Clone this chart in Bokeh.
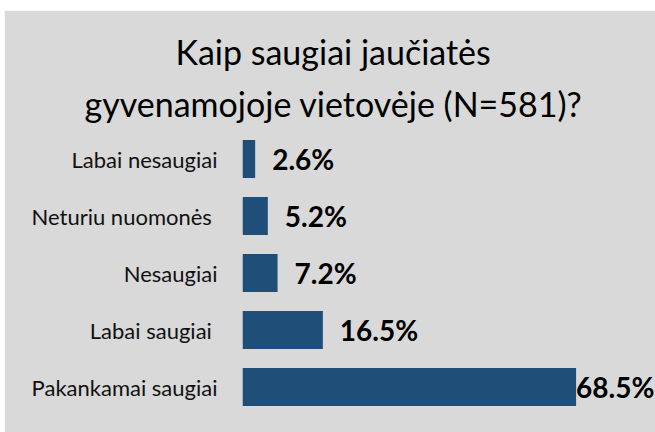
from bokeh.plotting import figure
from bokeh.models import ColumnDataSource, Range1d, FactorRange, Spacer, Title
from bokeh.layouts import column, row
from bokeh.core.properties import value
from bokeh.embed import file_html
from bokeh.resources import INLINE

categories = ["Labai nesaugiai", "Neturiu nuomonės ", "Nesaugiai", "Labai saugiai ", "Pakankamai saugiai"]
values = [2.6, 5.2, 7.2, 16.5, 68.5]
value_labels = ["2.6%", "5.2%", "7.2%", "16.5%", "68.5%"]
title_lines = ["Kaip saugiai jaučiatės", "gyvenamojoje vietovėje (N=581)?"]

BG = "#d9d9d9"
BAR = "#1f4e79"
FONT = "Lato"

offsets = [17 if v < 50 else 0 for v in values]
source = ColumnDataSource(dict(cat=categories, val=values, lab=value_labels, off=offsets))

p = figure(width=651, height=422, output_backend="svg", toolbar_location=None,
           x_range=Range1d(0, 84.6), y_range=FactorRange(factors=list(reversed(categories)), range_padding=0),
           min_border_left=238, min_border_right=1, min_border_top=120, min_border_bottom=17)
p.title = None
p.background_fill_color = BG
p.border_fill_color = BG
p.outline_line_color = BG
p.outline_line_width = 1
p.xgrid.visible = False
p.ygrid.visible = False
p.xaxis.visible = False

ya = p.yaxis[0]
ya.axis_line_color = None
ya.major_tick_line_color = None
ya.minor_tick_line_color = None
ya.major_tick_in = 0
ya.major_tick_out = 0
ya.major_label_standoff = 25
ya.major_label_text_font = FONT
ya.major_label_text_font_size = "22px"
ya.major_label_text_color = "#111111"

p.hbar(y="cat", right="val", left=0, height=0.667, source=source, fill_color=BAR, line_color=None)
p.text(x="val", y="cat", text="lab", x_offset="off", source=source, text_font=value(FONT),
       text_font_style="bold", text_font_size="28px", text_baseline="middle", text_align="left",
       text_color="#000000")

t2 = Title(text=title_lines[1], align="left", offset=-158, standoff=14, text_font=FONT,
           text_font_size="34px", text_font_style="normal", text_color="#000000")
t1 = Title(text=title_lines[0], align="left", offset=-67, standoff=3, text_font=FONT,
           text_font_size="34px", text_font_style="normal", text_color="#000000")
p.add_layout(t2, "above")
p.add_layout(t1, "above")

layout = column(Spacer(height=10, width=655), row(Spacer(width=4, height=422), p))
open("out.html", "w").write(file_html(layout, INLINE))
